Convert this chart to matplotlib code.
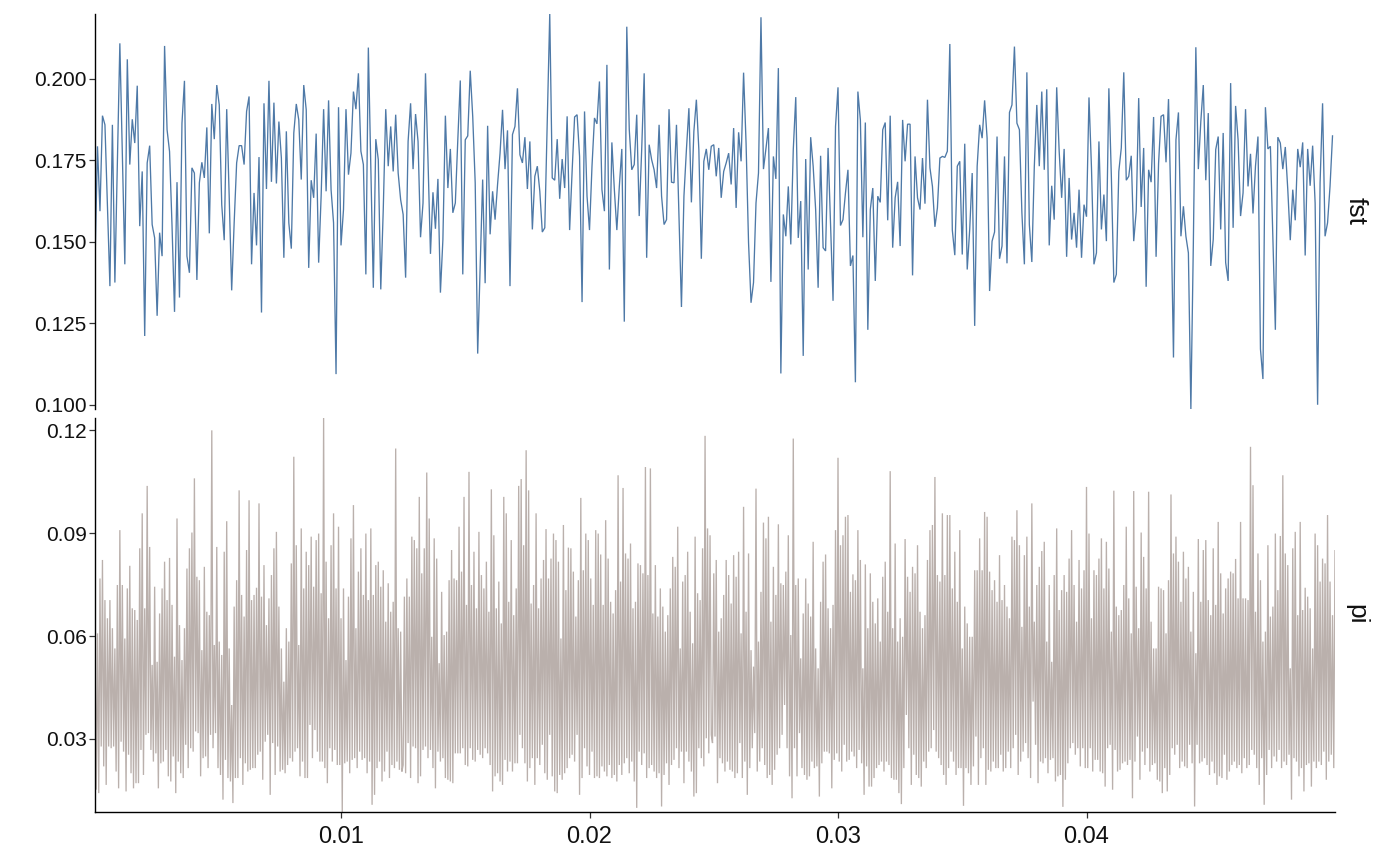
import numpy as np
import matplotlib
matplotlib.use("Agg")
import matplotlib.pyplot as plt

plt.rcParams['font.family'] = ['Liberation Sans', 'DejaVu Sans']

# fst series (one value per 0.0001 step of x)
fst = [
0.1436,0.1793,0.1594,0.1887,0.1859,0.1609,0.1364,0.1859,0.1375,0.1742,
0.2109,0.1772,0.1431,0.2060,0.1737,0.1876,0.1803,0.1979,0.1548,0.1716,
0.1211,0.1742,0.1795,0.1553,0.1512,0.1273,0.1528,0.1456,0.2101,0.1844,
0.1777,0.1548,0.1285,0.1683,0.1329,0.1864,0.1994,0.1456,0.1405,0.1727,
0.1711,0.1383,0.1681,0.1744,0.1696,0.1851,0.1526,0.1923,0.1815,0.1981,
0.1920,0.1614,0.1505,0.1907,0.1640,0.1351,0.1558,0.1742,0.1795,0.1795,
0.1737,0.1900,0.1946,0.1431,0.1650,0.1489,0.1760,0.1283,0.1925,0.1662,
0.1994,0.1684,0.1927,0.1679,0.1869,0.1757,0.1451,0.1839,0.1558,0.1479,
0.1834,0.1923,0.1874,0.1691,0.1981,0.1905,0.1420,0.1689,0.1635,0.1832,
0.1436,0.1640,0.1907,0.1655,0.1934,0.1660,0.1558,0.1094,0.1913,0.1489,
0.1599,0.1907,0.1706,
0.1772,0.1961,0.1907,0.2017,0.1778,0.1737,0.1400,0.2096,0.1721,0.1359,
0.1815,0.1752,0.1354,0.1599,0.1907,0.1732,0.1854,0.1716,0.1890,0.1711,
0.1629,0.1584,0.1390,0.1808,0.1925,0.1723,0.1892,0.1808,0.1514,0.1619,
0.2017,0.1752,0.1463,0.1652,0.1540,0.1693,0.1344,0.1507,0.1887,0.1665,
0.1785,0.1589,0.1619,0.1813,0.1995,0.1400,0.1813,0.1825,0.2025,0.1885,
0.1681,0.1157,0.1426,0.1691,0.1373,0.1856,0.1523,0.1655,0.1568,0.1676,
0.1772,0.1905,0.1723,0.1842,0.1364,0.1829,0.1854,0.1971,0.1767,0.1742,
0.1821,0.1662,0.1808,0.1538,0.1701,0.1732,0.1655,0.1530,0.1543,0.1869,
0.2199,0.1696,0.1689,0.1815,0.1632,0.1754,0.1665,0.1885,0.1536,0.1716,
0.1883,0.1890,0.1762,0.1315,0.1900,0.1640,0.1536,0.1732,0.1880,0.1862,
0.1992,0.1660,0.1594,0.2043,0.1415,0.1805,0.1660,0.1536,0.1670,0.1785,
0.1255,0.2160,0.1844,0.1721,0.1737,0.1890,0.1579,0.1783,0.2017,0.1451,
0.1798,0.1752,0.1721,0.1665,0.1859,0.1640,0.1553,0.1568,0.1907,0.1683,
0.1681,0.1859,0.1579,0.1300,0.1640,0.1783,0.1910,0.1621,0.1839,0.1936,
0.1783,0.1448,0.1747,0.1785,0.1721,0.1793,0.1798,0.1701,0.1788,0.1635,
0.1716,0.1742,0.1772,0.1676,0.1849,0.1604,0.1836,0.1747,0.2019,0.1803,
0.1497,0.1313,0.1375,0.1619,0.1711,0.2189,0.1723,0.1785,0.1849,0.1377,
0.1762,0.1693,0.2033,0.1096,0.1584,0.1517,0.1670,0.1492,0.1783,0.1944,
0.1512,0.1625,0.1150,0.1754,0.1415,0.1821,0.1732,0.1599,0.1359,0.1764,
0.1482,0.1472,0.1788,0.1553,0.1319,0.1854,0.1974,0.1550,0.1568,0.1650,
0.1721,
0.1426,0.1458,0.1069,0.1961,0.1874,0.1514,0.1866,0.1230,0.1599,0.1665,
0.1380,0.1640,0.1621,0.1844,0.1866,0.1566,0.1887,0.1482,0.1635,0.1684,
0.1487,0.1874,0.1747,0.1861,0.1861,0.1397,0.1762,0.1635,0.1599,0.1757,
0.1617,0.1936,0.1727,0.1670,0.1546,0.1604,0.1757,0.1762,0.1759,0.1778,
0.2107,0.1536,0.1459,0.1732,0.1747,0.1461,0.1801,0.1415,0.1538,0.1711,
0.1242,0.1732,0.1859,0.1818,0.1934,0.1818,0.1349,0.1502,0.1530,0.1823,
0.1448,0.1487,0.1762,0.1434,0.1897,0.1920,0.2099,0.1864,0.1844,0.1589,
0.1431,0.2020,0.1553,0.1438,0.1732,0.1920,0.1732,0.1961,0.1721,0.1968,
0.1489,0.1672,0.1568,0.1974,0.1778,0.1635,0.1785,0.1454,0.1696,0.1507,
0.1589,0.1482,0.1660,0.1451,0.1614,0.1577,0.1943,0.1727,0.1431,0.1466,
0.1808,0.1538,0.1645,0.1502,0.1971,0.1701,0.1375,0.1400,0.1716,0.1788,
0.2020,0.1689,0.1701,0.1764,0.1502,0.1594,0.1941,0.1607,0.1788,0.1362,
0.1721,0.1683,0.1883,0.1454,0.1740,0.1885,0.1890,0.1744,0.1938,0.1599,
0.1145,0.1813,0.1897,0.1517,0.1609,0.1517,0.1466,0.0987,0.1497,0.2097,
0.1723,0.1869,0.1981,0.1689,0.1895,0.1426,0.1507,0.1783,0.1823,0.1538,
0.1834,0.1436,0.1380,0.1987,0.1543,0.1917,0.1813,0.1579,0.1650,0.1907,
0.1670,0.1770,0.1587,0.1732,0.1823,0.1171,0.1079,0.1913,0.1785,0.1793,
0.1517,0.1230,0.1821,0.1803,0.1723,0.1791,0.1660,0.1505,0.1660,0.1566,
0.1785,0.1729,0.1805,0.1458,0.1785,0.1672,0.1795,0.1619,0.1000,0.1681,
0.1925,0.1517,0.1558,0.1670,0.1825,
]

# pi series (one value per 0.00005 step of x)
pi = [
.0574,.0152,.0608,.0142,.0768,.0278,.0822,.0220,.0705,.0166,
.0652,.0278,.0705,.0273,.0623,.0278,.0564,.0205,.0749,.0156,
.0909,.0292,.0749,.0263,.0593,.0147,.0739,.0254,.0805,.0200,
.0681,.0156,.0676,.0171,.0647,.0171,.0856,.0268,.0958,.0195,
.0681,.0312,.1038,.0317,.0860,.0268,.0516,.0234,.0744,.0258,
.0525,.0156,.0666,.0229,.0739,.0234,.0817,.0268,.0705,.0191,
.0828,.0176,.0691,.0249,.0540,.0142,.0943,.0234,.0632,.0200,
.0530,.0186,.0623,.0283,.0797,.0215,.0856,.0273,.0902,.0263,
.1060,.0322,.0773,.0317,.0763,.0191,.0559,.0244,.0802,.0249,
.0671,.0215,.0661,.0312,.1200,.0273,.0574,.0317,.0860,.0215,
.0584,.0195,.0545,.0123,.0846,.0239,.0935,.0186,.0564,.0176,
.0399,.0113,.0686,.0186,.0763,.0186,.1025,.0244,.0720,.0166,
.0657,.0229,.0851,.0205,.0996,.0210,.0705,.0215,.0720,.0215,
.0741,.0254,.0987,.0263,.0715,.0181,.0807,.0292,.0632,.0312,
.0710,.0137,.0778,.0288,.0856,.0195,.0904,.0278,.0686,.0205,
.0564,.0210,.0467,.0200,.0623,.0224,.0584,.0244,.0812,.0234,
.1123,.0263,.0865,.0273,.0574,.0191,.0914,.0234,.0739,.0186,
.0846,.0186,.0807,.0341,.0890,.0244,.0744,.0326,.0880,.0263,
.0899,.0234,.0725,.0234,.1236,.0215,.0817,.0171,.0652,.0273,
.0865,.0234,.0958,.0268,.0739,.0224,.0919,.0224,.0652,.0087,
.0739,.0229,.0530,.0234,.0715,.0200,.0885,.0239,.0982,.0244,
.0623,.0215,.0788,.0263,.0856,.0239,.0720,.0244,.0899,.0200,
.0705,.0234,.0914,.0108,.0720,.0137,.0807,.0215,.0817,.0234,
.0744,.0176,.0792,.0205,.0642,.0263,.0754,.0186,.0671,.0224,
.0700,.0215,.1147,.0234,.0623,.0210,.0613,.0205,.0224,
.0715,.0200,.0768,.0288,.0715,.0186,.0890,.0278,.0880,.0273,
.0856,.0171,.1006,.0191,.0783,.0268,.0856,.0278,.1077,.0244,
.0943,.0268,.0598,.0215,.0885,.0156,.0826,.0263,.0521,.0234,
.0729,.0244,.0603,.0186,.0613,.0181,.0763,.0176,.0851,.0171,
.0768,.0258,.0763,.0258,.0919,.0258,.0788,.0273,.1006,.0224,
.0691,.0220,.1079,.0273,.0749,.0239,.0846,.0234,.0681,.0268,
.0904,.0254,.0778,.0244,.0739,.0273,.0817,.0258,.0671,.0224,
.1028,.0147,.0894,.0191,.0681,.0200,.0759,.0176,.0637,.0166,
.1006,.0239,.0958,.0205,.0700,.0234,.0880,.0205,.0661,.0229,
.0739,.0229,.1038,.0312,.1058,.0273,.0865,.0229,.1142,.0176,
.1025,.0215,.0695,.0244,.0749,.0166,.0958,.0244,.0681,.0224,
.0768,.0283,.0822,.0200,.0912,.0181,.0768,.0312,.0826,.0191,
.0899,.0147,.0880,.0142,.0817,.0195,.0593,.0181,.0924,.0200,
.0734,.0215,.0858,.0244,.0856,.0254,.0788,.0234,.0657,.0312,
.0763,.0137,.1003,.0186,.0792,.0273,.0899,.0220,.0880,.0195,
.0768,.0263,.0691,.0186,.0909,.0191,.0899,.0186,.0838,.0220,
.0691,.0205,.0938,.0191,.0826,.0224,.0700,.0186,.0666,.0195,
.0734,.0176,.1069,.0224,.0759,.0195,.1032,.0229,.0841,.0244,
.0826,.0200,.0870,.0234,.0681,.0176,.0700,.0099,.0812,.0263,
.0807,.0224,.0783,.0258,.1093,.0186,.0778,.0215,.1089,.0224,
.0666,.0205,.0807,.0186,.0657,.0200,.0739,.0103,.0686,.0195,
.0613,.0229,.0661,.0166,.0739,.0224,.0831,.0239,.0802,.0273,
.0919,.0215,.0564,.0263,.0759,.0171,.0778,.0263,.0846,.0234,
.0671,.0205,.0579,.0132,.0890,.0142,.0725,.0273,.0705,.0244,
.0856,.0220,.1184,.0302,.0914,.0258,.0894,.0312,.0288,
.0783,.0307,.0822,.0171,.0613,.0244,.0652,.0229,.0720,.0205,
.0822,.0234,.0778,.0210,.0695,.0205,.0836,.0186,.0773,.0200,
.0846,.0288,.0608,.0186,.0977,.0234,.0671,.0137,.0841,.0215,
.0559,.0273,.0511,.0317,.1030,.0205,.0584,.0234,.0729,.0273,
.0931,.0224,.0885,.0186,.0948,.0195,.0642,.0166,.0802,.0210,
.0720,.0254,.0926,.0273,.0754,.0312,.0749,.0399,.0788,.0273,
.0894,.0191,.0603,.0127,.1176,.0273,.0749,.0191,.0768,.0317,
.0535,.0215,.0666,.0195,.0768,.0181,.0695,.0191,.0657,.0234,
.0875,.0215,.0564,.0220,.0506,.0132,.0700,.0229,.0817,.0263,
.0838,.0263,.0681,.0258,.0623,.0156,.0691,.0239,.0909,.0258,
.1120,.0234,.0865,.0205,.0894,.0283,.0948,.0234,.0953,.0239,
.0729,.0263,.0780,.0249,.0763,.0215,.0909,.0268,.0822,.0229,
.0506,.0137,.0809,.0220,.0623,.0161,.0783,.0161,.0700,.0186,
.0637,.0215,.0710,.0224,.0584,.0234,.0773,.0205,.0817,.0234,
.0671,.0224,.1081,.0186,.0623,.0181,.0870,.0181,.0584,.0142,
.0652,.0110,.0598,.0215,.0883,.0370,.0773,.0273,.0729,.0166,
.0802,.0254,.0783,.0195,.0865,.0186,.0671,.0161,.0623,.0234,
.0661,.0215,.0822,.0263,.0909,.0273,.0924,.0326,.1064,.0263,
.0778,.0244,.0759,.0224,.0958,.0195,.0778,.0166,.0953,.0215,
.0953,.0263,.0739,.0234,.0846,.0195,.0700,.0215,.0909,.0215,
.0564,.0105,.0686,.0215,.0637,.0200,.0598,.0166,.0598,.0220,
.0792,.0307,.0792,.0166,.0885,.0244,.0792,.0273,.0962,.0166,
.0948,.0210,.0788,.0205,.0734,.0234,.0763,.0215,.0700,.0215,
.0836,.0254,.0705,.0205,.0749,.0215,.0686,.0263,.0652,.0215,
.0890,.0273,.0880,.0312,.0967,.0195,.0865,.0234,.0627,.0263,
.0836,.0288,.0890,.0244,.0686,.0186,.0987,.0409,.0642,.0283,
.0749,.0171,.0802,.0234,.0848,.0229,.0875,.0244,.0584,.0200,
.0749,.0239,.0525,.0244,.0778,.0176,.0914,.0191,.0676,.0195,
.0734,.0102,.0778,.0181,.0729,.0229,.0826,.0273,.0909,.0288,
.0749,.0254,.0642,.0273,.0822,.0220,.0739,.0273,.0792,.0215,
.1035,.0215,.0899,.0273,.0652,.0205,.0792,.0239,.0778,.0239,
.0826,.0205,.0885,.0200,.0739,.0161,.0875,.0273,.0797,.0283,
.0613,.0152,.1024,.0268,.0686,.0205,.0661,.0210,.0676,.0229,
.0749,.0234,.0919,.0224,.0710,.0239,.0608,.0127,.1023,.0234,
.0744,.0307,.0623,.0181,.0902,.0263,.0831,.0224,.0739,.0273,
.1021,.0205,.0642,.0224,.0564,.0229,.0564,.0181,.0744,.0176,
.0739,.0142,.0734,.0215,.0608,.0147,.0763,.0195,.1013,.0273,
.0841,.0254,.0890,.0283,.0817,.0215,.0700,.0234,.0846,.0220,
.0768,.0215,.0802,.0283,.0613,.0229,.0729,.0103,.0550,.0283,
.0883,.0229,.0700,.0234,.0851,.0244,.0880,.0224,.0705,.0195,
.0661,.0234,.0856,.0200,.0691,.0166,.0933,.0191,.0783,.0186,
.0666,.0254,.0739,.0181,.0768,.0205,.0788,.0224,.0783,.0234,
.0825,.0215,.0710,.0224,.0933,.0200,.0710,.0244,.0710,.0215,
.0705,.0224,.1152,.0268,.1040,.0254,.0671,.0215,.0841,.0166,
.0763,.0244,.0584,.0108,.0613,.0195,.0865,.0268,.0657,.0215,
.0686,.0249,.0899,.0234,.0734,.0268,.0892,.0215,.1069,.0234,
.0841,.0224,.0807,.0254,.0506,.0123,.0856,.0244,.0904,.0234,
.0661,.0191,.0933,.0215,.0676,.0147,.0741,.0224,.0715,.0229,
.0681,.0161,.0564,.0234,.0899,.0215,.0865,.0234,.0759,.0224,
.0826,.0263,.0812,.0181,.0953,.0234,.0759,.0254,.0661,.0215,
.0851,.0322,
]

x_step_fst = 0.0001
x_step_pi = 0.00005
x_ticks = [0.01, 0.02, 0.03, 0.04]
x_labels = ["0.01", "0.02", "0.03", "0.04"]
fst_ticks = [0.100, 0.125, 0.150, 0.175, 0.200]
fst_labels = ["0.100", "0.125", "0.150", "0.175", "0.200"]
pi_ticks = [0.03, 0.06, 0.09, 0.12]
pi_labels = ["0.03", "0.06", "0.09", "0.12"]
panel_names = ["fst", "pi"]
line_colors = ["#4E79A7", "#BAB0AC"]

fst_x = np.arange(1, len(fst) + 1) * x_step_fst
pi_x = np.arange(2, len(pi) + 2) * x_step_pi

W, H = 1400, 865
fig = plt.figure(figsize=(W / 100, H / 100), dpi=100)
fig.patch.set_facecolor("white")

ax1 = fig.add_axes([95 / W, (H - 409) / H, 1240 / W, 395 / H])
ax2 = fig.add_axes([95 / W, (H - 812) / H, 1240 / W, 394 / H])

ax1.plot(fst_x, fst, color=line_colors[0], lw=0.95, solid_joinstyle="miter")
ax2.plot(pi_x, pi, color=line_colors[1], lw=0.95, solid_joinstyle="miter")

for ax in (ax1, ax2):
    ax.set_xlim(0.0001, 0.05)
    for s in ("top", "right"):
        ax.spines[s].set_visible(False)
    ax.spines["left"].set_linewidth(1.0)
    ax.spines["left"].set_color("#000000")
    ax.tick_params(axis="y", length=4, width=0.9, color="#333333",
                   labelsize=15, labelcolor="#111111", pad=2)
    ax.set_facecolor("white")

ax1.spines["bottom"].set_visible(False)
ax1.tick_params(axis="x", bottom=False, labelbottom=False)
ax1.set_ylim(min(fst), max(fst))
ax1.set_yticks(fst_ticks)
ax1.set_yticklabels(fst_labels)

ax2.spines["bottom"].set_linewidth(1.0)
ax2.spines["bottom"].set_color("#000000")
ax2.set_ylim(min(pi), max(pi))
ax2.set_yticks(pi_ticks)
ax2.set_yticklabels(pi_labels)
ax2.set_xticks(x_ticks)
ax2.set_xticklabels(x_labels)
ax2.tick_params(axis="x", length=4, width=0.9, color="#333333",
                labelsize=17, labelcolor="#111111", pad=6)

fig.text(1356 / W, 1 - 211 / H, panel_names[0], rotation=270,
         ha="center", va="center", fontsize=19, color="#111111")
fig.text(1356 / W, 1 - 614 / H, panel_names[1], rotation=270,
         ha="center", va="center", fontsize=19, color="#111111")

fig.savefig("out.png", dpi=100, facecolor="white")
